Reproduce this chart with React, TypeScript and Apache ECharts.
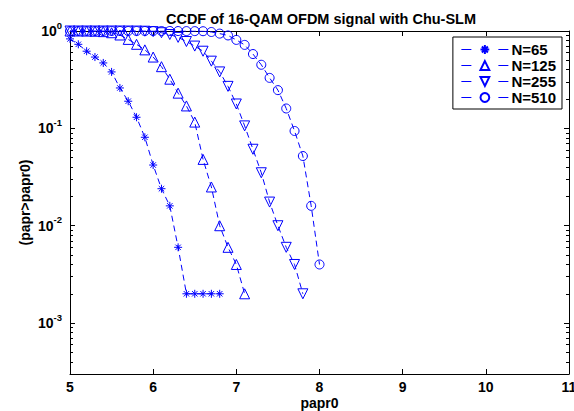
import React, { useEffect, useRef } from "react";
import * as echarts from "echarts";

const papr0 = [
  5.0, 5.1, 5.2, 5.3, 5.4, 5.5, 5.6, 5.7, 5.8, 5.9, 6.0, 6.1, 6.2, 6.3, 6.4, 6.5,
  6.6, 6.7, 6.8, 6.9, 7.0, 7.1, 7.2, 7.3, 7.4, 7.5, 7.6, 7.7, 7.8, 7.9, 8.0,
];

const ccdfN65 = [
  0.83, 0.73, 0.62, 0.54, 0.47, 0.38, 0.26, 0.19, 0.13, 0.081, 0.042, 0.024,
  0.016, 0.006, 0.002, 0.002, 0.002, 0.002, 0.002,
];
const ccdfN125 = [
  1, 1, 0.998, 0.994, 0.985, 0.96, 0.91, 0.82, 0.73, 0.64, 0.54, 0.43, 0.32,
  0.23, 0.17, 0.116, 0.048, 0.025, 0.01, 0.006, 0.004, 0.002,
];
const ccdfN255 = [
  1, 1, 1, 1, 1, 1, 1, 0.999, 0.998, 0.995, 0.985, 0.96, 0.92, 0.86, 0.78,
  0.7, 0.62, 0.49, 0.38, 0.27, 0.178, 0.106, 0.061, 0.035, 0.0175, 0.01, 0.006,
  0.004, 0.002,
];
const ccdfN510 = [
  1, 1, 1, 1, 1, 1, 1, 1, 1, 1, 1, 1, 1, 0.999, 0.998, 0.997, 0.995, 0.977,
  0.94, 0.9, 0.81, 0.72, 0.58, 0.45, 0.33, 0.247, 0.16, 0.094, 0.052, 0.016,
  0.004,
];

const seriesNames = ["N=65", "N=125", "N=255", "N=510"];
const yMajorTicks = [1e-3, 1e-2, 1e-1, 1];
const yMinorTicks = [
  4e-4, 5e-4, 6e-4, 7e-4, 8e-4, 9e-4,
  2e-3, 3e-3, 4e-3, 5e-3, 6e-3, 7e-3, 8e-3, 9e-3,
  2e-2, 3e-2, 4e-2, 5e-2, 6e-2, 7e-2, 8e-2, 9e-2,
  0.2, 0.3, 0.4, 0.5, 0.6, 0.7, 0.8, 0.9,
];

const FONT = "'Liberation Sans', Arial, Helvetica, sans-serif";
const BLUE = "#0000ff";
const ASTERISK = "path://M5,0L5,10M0,5L10,5M1.6,1.6L8.4,8.4M1.6,8.4L8.4,1.6";

export default function App() {
  const ref = useRef<HTMLDivElement>(null);
  useEffect(() => {
    if (!ref.current) return;
    const chart = echarts.init(ref.current, undefined, { renderer: "svg" });

    const pairs = (vals: number[]) => vals.map((v, i) => [papr0[i], v]);
    const mk = (name: string, vals: number[], symbol: string, size: number, rotate = 0) => ({
      name,
      type: "line",
      data: pairs(vals),
      xAxisIndex: 0,
      yAxisIndex: 0,
      symbol,
      symbolSize: size,
      symbolRotate: rotate,
      showAllSymbol: true,
      lineStyle: { color: BLUE, width: 1, type: [6, 4] },
      itemStyle: { color: "rgba(0,0,0,0)", borderColor: BLUE, borderWidth: 1 },
      emphasis: { disabled: true },
      z: 3,
    });

    const yBase = {
      type: "log",
      logBase: 10,
      min: 3e-4,
      max: 1,
      splitLine: { show: false },
      minorTick: { show: false },
      offset: 0,
    };
    const tickFmt = (v: number) => {
      const e = Math.round(Math.log10(v));
      return `{b|10}{s|${e}}`;
    };

    chart.setOption({
      animation: false,
      backgroundColor: "#ffffff",
      title: {
        text: "CCDF of 16-QAM OFDM signal with Chu-SLM",
        left: 316,
        top: 6,
        textAlign: "center",
        textStyle: { fontFamily: FONT, fontSize: 14.5, fontWeight: "bold", color: "#000" },
      },
      legend: {
        orient: "vertical",
        right: 12,
        top: 37,
        data: seriesNames,
        itemWidth: 47,
        itemHeight: 11,
        itemGap: 1,
        padding: [5, 6, 4, 8],
        borderColor: "#000",
        borderWidth: 1,
        backgroundColor: "#fff",
        lineStyle: { type: [10, 27], width: 1, color: BLUE },
        textStyle: {
          fontFamily: FONT,
          fontSize: 15,
          fontWeight: "bold",
          color: "#000",
          lineHeight: 15,
          padding: [0, 0, 0, -2],
        },
        selectedMode: false,
      },
      grid: { left: 70, right: 5, top: 31, bottom: 37, outerBoundsMode: "none", containLabel: false },
      xAxis: [
        {
          type: "value",
          min: 5,
          max: 11,
          interval: 1,
          position: "bottom",
          name: "papr0",
          nameLocation: "middle",
          nameGap: 22,
          nameMoveOverlap: false,
          nameTextStyle: { fontFamily: FONT, fontSize: 14, fontWeight: "bold", color: "#000", verticalAlign: "top" },
          axisLine: { lineStyle: { color: "#000", width: 1 } },
          axisTick: { inside: true, length: 5, lineStyle: { color: "#000" } },
          axisLabel: { fontFamily: FONT, fontSize: 14, fontWeight: "bold", color: "#000", margin: 6 },
          splitLine: { show: false },
        },
        {
          type: "value",
          min: 5,
          max: 11,
          interval: 1,
          position: "top",
          axisLine: { lineStyle: { color: "#000", width: 1 } },
          axisTick: { inside: true, length: 5, lineStyle: { color: "#000" } },
          axisLabel: { show: false },
          splitLine: { show: false },
        },
      ],
      yAxis: [
        {
          ...yBase,
          position: "left",
          name: "(papr>papr0)",
          nameLocation: "middle",
          nameGap: 38,
          nameMoveOverlap: false,
          nameRotate: 90,
          nameTextStyle: { fontFamily: FONT, fontSize: 14, fontWeight: "bold", color: "#000" },
          axisLine: { show: true, lineStyle: { color: "#000", width: 1 } },
          axisTick: { show: true, inside: true, length: 5, customValues: yMajorTicks, lineStyle: { color: "#000" } },
          axisLabel: {
            customValues: yMajorTicks,
            formatter: tickFmt,
            margin: 8,
            rich: {
              b: { fontFamily: FONT, fontSize: 14, fontWeight: "bold", color: "#000", lineHeight: 22 },
              s: { fontFamily: FONT, fontSize: 9.5, fontWeight: "bold", color: "#000", lineHeight: 11, verticalAlign: "top" },
            },
          },
        },
        {
          ...yBase,
          position: "right",
          axisLine: { show: true, lineStyle: { color: "#000", width: 1 } },
          axisTick: { show: true, inside: true, length: 5, customValues: yMajorTicks, lineStyle: { color: "#000" } },
          axisLabel: { show: false },
        },
        {
          ...yBase,
          position: "left",
          axisLine: { show: false },
          axisTick: { show: true, inside: true, length: 3, customValues: yMinorTicks, lineStyle: { color: "#000" } },
          axisLabel: { show: false },
        },
        {
          ...yBase,
          position: "right",
          axisLine: { show: false },
          axisTick: { show: true, inside: true, length: 3, customValues: yMinorTicks, lineStyle: { color: "#000" } },
          axisLabel: { show: false },
        },
      ],
      series: [
        mk("N=65", ccdfN65, ASTERISK, 8),
        mk("N=125", ccdfN125, "triangle", 10),
        mk("N=255", ccdfN255, "triangle", 10, 180),
        mk("N=510", ccdfN510, "circle", 9),
      ],
    });
    return () => chart.dispose();
  }, []);
  return (
    <div
      ref={ref}
      style={{ position: "fixed", left: 0, top: 0, width: 574, height: 411, background: "#fff" }}
    />
  );
}
